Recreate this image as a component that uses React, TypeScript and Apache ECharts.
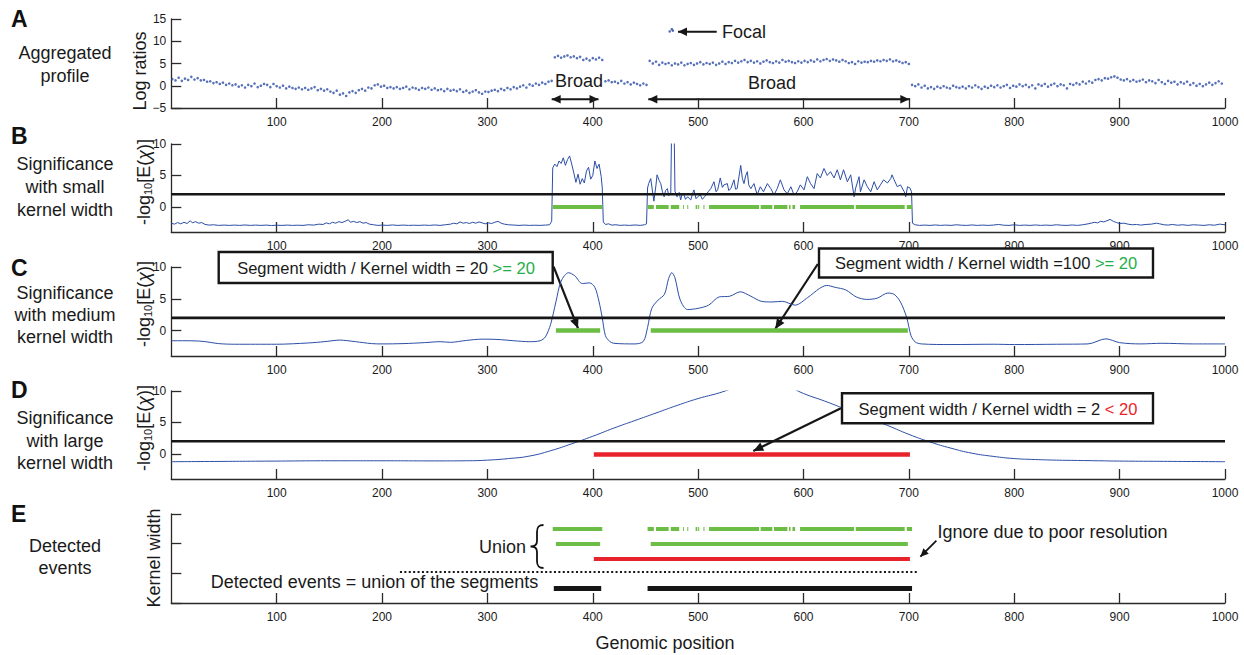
import React, { useEffect, useRef } from 'react';
import * as echarts from 'echarts';

// ---------------- DATA ----------------
const X_MIN = 0;
const X_MAX = 1000;
const THRESHOLD = 2;

// Panel A: aggregated profile (log ratios), one value every 3 positions starting at 1
const A_START = 1;
const A_STEP = 3;
const aggregatedProfile = [
  1.5, 1.2, 1.8, 1.1, 1.6, 1.3, 2.0, 1.4, 1.7, 1.2,
  1.3, 0.9, 1.0, 0.6, 0.8, 0.4, 0.7, 0.2, 0.5, 0.1,
  0.3, -0.2, 0.1, -0.4, 0.2, -0.1, 0.5, -0.3, 0.0, 0.4,
  0.2, -0.3, 0.4, -0.1, -0.4, 0.0, -0.6, -0.2, -0.5, -0.7,
  -0.4, -0.8, -0.5, -0.9, -0.6, -0.3, -1.0, -0.7, -1.1, -0.8,
  -1.3, -1.6, -1.1, -2.0, -1.7, -2.3, -1.5, -1.2, -1.6, -1.0,
  -0.7, -1.1, -0.4, -0.6, 0.1, 0.3, -0.2, 0.0, -0.5, -0.3,
  -0.6, -0.3, -0.7, -0.5, -0.2, -0.8, -0.4, -0.6, -0.9, -0.5,
  -0.7, -0.4, -0.9, -0.6, -1.0, -0.8, -1.2, -0.7, -1.1, -0.9,
  -1.2, -0.8, -1.4, -1.1, -1.6, -1.3, -1.0, -1.5, -1.8, -1.3,
  -1.4, -1.1, -0.9, -1.2, -0.7, -1.0, -0.5, -0.8, -0.3, -0.6,
  -0.2, 0.1, -0.4, 0.3, 0.0, 0.5, 0.2, 0.7, 0.4, 0.9,
  1.1, 6.4, 6.7, 6.3, 6.6, 6.8, 6.4, 6.6, 6.2, 6.5,
  5.8, 6.1, 5.7, 6.2, 5.9, 6.3, 5.8, 1.0, 1.2, 0.8,
  0.9, 0.6, 1.1, 0.5, 0.8, 0.3, 0.7, 0.4, 0.1, 0.5,
  0.2, 5.6, 5.0, 5.4, 4.7, 5.2, 4.9, 5.1, 4.6, 5.0,
  4.8, 5.2, 4.6, 4.9, 5.1, 4.7, 5.0, 5.3, 4.8, 5.1,
  4.9, 5.2, 4.7, 5.0, 5.4, 4.9, 5.3, 5.1, 5.6, 5.2,
  5.5, 5.8, 5.3, 5.6, 5.2, 5.5, 5.0, 5.4, 5.7, 5.3,
  5.1, 5.5, 5.2, 5.8, 5.4, 5.6, 5.3, 5.1, 5.5, 5.2,
  5.6, 5.3, 5.7, 5.4, 5.9, 5.5, 5.8, 6.0, 5.6, 5.9,
  5.7, 5.4, 5.8, 5.5, 5.1, 5.3, 4.9, 5.5, 5.2, 5.4,
  5.3, 5.6, 5.4, 5.7, 5.5, 5.8, 5.6, 5.9, 5.5, 5.7,
  5.4, 5.1, 5.3, 4.9, 0.2, -0.1, 0.3, -0.4, 0.0, -0.6,
  -0.3, -0.7, -0.2, -0.5, -0.1, -0.4, -0.6, 0.0, -0.3, -0.5,
  -0.2, -0.6, -0.1, -0.4, 0.1, -0.3, -0.7, -0.2, -0.5, 0.0,
  -0.3, 0.1, -0.4, -0.1, 0.2, -0.5, 0.0, -0.2, 0.3, -0.1,
  0.2, -0.3, 0.1, -0.6, 0.3, 0.0, 0.4, -0.2, 0.2, 0.5,
  -0.1, 0.3, 0.1, -0.6, 0.4, 0.2, 0.6, 0.3, 0.9, 0.5,
  1.0, 0.7, 1.3, 1.5, 1.2, 1.7, 1.6, 1.9, 2.1, 1.8,
  1.4, 1.2, 1.5, 1.0, 1.3, 0.9, 1.1, 1.4, 0.8, 1.2,
  1.0, 0.6, 1.3, 0.8, 0.4, 1.1, 0.7, 0.9, 0.3, 0.8,
  0.5, 0.9, 0.2, 0.6, 0.0, 0.4, -0.1, 0.3, 0.7, 0.2,
  0.6, 1.0, 0.5,
];
const focalPoints: [number, number][] = [[473, 12.2], [475, 12.7], [476, 12.4]];

// Panel B: significance with small kernel width
const smallKernel: [number, number][] = [
  [0, -2.6], [3, -2.75], [6, -2.5], [9, -2.7], [12, -2.45], [15, -2.65], [18, -2.2], [20, -2.55], [23, -2.35], [26, -2.6],
  [29, -2.5], [32, -2.8], [36, -2.9], [40, -2.85], [45, -2.95], [50, -2.9], [55, -2.95], [60, -2.9], [65, -2.95], [70, -2.88],
  [75, -2.95], [80, -2.9], [85, -2.95], [90, -2.9], [95, -2.97], [100, -2.92], [105, -2.95], [110, -2.9], [115, -2.95], [120, -2.92],
  [125, -2.95], [130, -2.85], [135, -2.9], [140, -2.75], [144, -2.8], [147, -2.55], [150, -2.7], [153, -2.45], [156, -2.6], [159, -2.35],
  [162, -2.5], [165, -2.3], [168, -2.05], [170, -2.45], [173, -2.3], [176, -2.5], [179, -2.35], [182, -2.6], [185, -2.5], [188, -2.75],
  [192, -2.85], [196, -2.95], [200, -2.9], [205, -2.95], [210, -2.88], [215, -2.95], [220, -2.9], [225, -2.95], [230, -2.92], [235, -2.95],
  [240, -2.9], [245, -2.95], [250, -2.88], [255, -2.95], [260, -2.85], [265, -2.75], [268, -2.6], [271, -2.7], [274, -2.4], [277, -2.6],
  [280, -2.5], [283, -2.65], [286, -2.45], [289, -2.6], [292, -2.4], [295, -2.55], [298, -2.7], [301, -2.55], [304, -2.65], [307, -2.45],
  [310, -2.3], [313, -2.6], [316, -2.75], [320, -2.85], [325, -2.9], [330, -2.95], [335, -2.9], [340, -2.95], [345, -2.92], [350, -2.95],
  [355, -2.9], [359, -2.85], [361, -2.3],
  [362, 6.2], [364, 6.8], [366, 6.4], [368, 7.3], [370, 6.9], [372, 7.8], [374, 6.6], [376, 7.5], [378, 8.1], [380, 6.8],
  [382, 5.4], [384, 3.9], [386, 5.2], [388, 3.6], [390, 4.5], [392, 3.8], [394, 5.7], [396, 6.3], [398, 4.4], [400, 5.0],
  [402, 7.3], [404, 6.1], [406, 6.8], [408, 4.8], [409, 3.0], [410, -2.4], [412, -2.8], [415, -2.7], [418, -2.9], [422, -2.85],
  [426, -2.95], [430, -2.9], [435, -2.95], [440, -2.88], [445, -2.95], [449, -2.85], [451, -2.7],
  [452, 3.0], [453, 3.7], [455, 4.5], [456.5, 2.7], [458, 0.9], [460, 3.5], [461, 5.1], [463, 4.2], [464.5, 3.7], [466, 2.5],
  [467.7, 1.6], [469, 2.6], [470.8, 2.9], [472, 1.8], [474, 2.1], [475, 15], [477, 15], [478, 2.5], [480, 1.6], [482, 2.3],
  [483.4, 1.1], [485, 2.2], [486.6, 1.9], [488, 1.2], [490, 1.6], [493, 1.1], [494.5, 2.0], [496, 2.7], [498, 1.3], [499.5, 1.6],
  [502, 1.9], [504, 1.2], [506, 1.6], [508, 2.0], [509.5, 2.4], [512, 2.9], [515, 4.0], [517, 2.4], [518.5, 2.7], [521, 4.6],
  [523, 3.1], [524.5, 3.5], [527.7, 3.7], [529, 2.6], [531, 2.9], [534, 4.3], [535.5, 2.8], [537, 2.9], [540.4, 6.6], [542, 4.5],
  [543.5, 3.7], [545, 4.9], [546.7, 5.6], [548, 3.5], [550, 2.9], [553, 3.7], [556, 1.9], [559, 3.2], [562, 2.4], [565.7, 3.7],
  [569, 2.9], [572, 1.9], [575, 2.9], [578, 4.3], [581.5, 2.7], [584.6, 2.1], [588, 3.2], [591, 1.9], [594, 2.4], [597, 3.5],
  [600.5, 2.7], [603.6, 4.8], [606.7, 3.7], [610, 2.9], [613, 5.3], [616, 4.6], [619.4, 6.1], [622.5, 5.0], [625.6, 5.6], [629, 4.6],
  [632, 5.9], [635, 4.3], [638, 5.9], [641.6, 4.0], [644.8, 5.1], [648, 1.6], [649.5, 3.0], [652.7, 4.8], [654, 2.4], [657.5, 4.3],
  [660.6, 3.2], [663.8, 2.4], [667, 4.0], [670, 2.7], [673, 3.5], [676, 4.3], [679.6, 3.8], [682.8, 4.5], [684, 5.1], [686, 4.3],
  [689, 3.2], [692, 3.5], [695.6, 2.4], [697, 1.6], [698.7, 3.2], [701, 3.0], [702.5, 2.4], [703.4, -2.6],
  [706, -2.85], [710, -2.95], [715, -2.9], [720, -2.95], [725, -2.88], [730, -2.95], [735, -2.9], [740, -2.95], [745, -2.85], [750, -2.92],
  [755, -2.95], [760, -2.88], [765, -2.95], [770, -2.9], [775, -2.95], [780, -2.9], [785, -2.8], [790, -2.92], [795, -2.95], [800, -2.85],
  [805, -2.95], [810, -2.9], [815, -2.95], [820, -2.88], [825, -2.95], [830, -2.9], [835, -2.95], [840, -2.85], [845, -2.92], [850, -2.95],
  [855, -2.88], [860, -2.95], [865, -2.85], [870, -2.7], [873, -2.6], [876, -2.45], [879, -2.55], [882, -2.3], [885, -2.4], [888, -2.2],
  [891, -2.0], [894, -2.3], [897, -2.5], [900, -2.65], [904, -2.6], [908, -2.75], [912, -2.85], [916, -2.8], [920, -2.9], [925, -2.8],
  [930, -2.75], [935, -2.6], [938, -2.7], [942, -2.85], [946, -2.9], [950, -2.8], [955, -2.92], [960, -2.85], [965, -2.95], [970, -2.85],
  [975, -2.9], [980, -2.95], [985, -2.85], [990, -2.92], [995, -2.75], [1000, -2.85],
];

// Panel C: significance with medium kernel width
const mediumKernel: [number, number][] = [
  [0, -1.6], [15, -1.6], [30, -1.7], [45, -2.05], [60, -2.15], [80, -2.15], [100, -2.15], [130, -1.95], [145, -1.75], [160, -1.5],
  [175, -1.75], [190, -2.05], [200, -2.1], [220, -2.05], [240, -1.9], [255, -1.75], [265, -1.85], [280, -1.55], [295, -1.35], [310, -1.4],
  [325, -1.6], [340, -1.75], [350, -1.6], [355, -1.0], [360, 1.0], [365, 4.5], [370, 7.8], [377, 9.1], [383, 8.6], [390, 7.4],
  [397, 7.5], [402, 6.8], [406, 4.5], [409, 2.0], [412, -0.8], [416, -1.7], [420, -2.0], [440, -2.1], [448, -1.7], [452, 0.5],
  [456, 3.5], [462, 4.8], [468, 5.7], [472, 8.2], [475, 9.1], [478, 8.3], [483, 4.8], [490, 3.3], [500, 3.5], [510, 4.0],
  [520, 5.3], [530, 5.4], [540, 6.1], [550, 5.4], [560, 4.6], [570, 4.5], [580, 4.6], [592, 4.0], [604, 5.2], [615, 6.6],
  [622, 7.1], [630, 6.8], [640, 6.4], [650, 5.3], [660, 4.9], [670, 5.1], [680, 5.9], [686, 5.7], [692, 4.5], [698, 2.0],
  [702, -0.8], [706, -1.8], [712, -2.1], [740, -2.2], [780, -2.15], [800, -2.2], [840, -2.15], [870, -2.1], [887, -1.3], [900, -1.9],
  [920, -2.1], [940, -2.0], [970, -2.1], [1000, -2.1],
];

// Panel D: significance with large kernel width
const largeKernel: [number, number][] = [
  [0, -1.25], [50, -1.2], [100, -1.15], [150, -1.1], [200, -1.1], [250, -1.12], [280, -1.1], [300, -1.0], [320, -0.75], [340, -0.35],
  [360, 0.5], [380, 1.6], [400, 2.8], [420, 4.1], [440, 5.3], [460, 6.5], [480, 7.7], [500, 8.8], [520, 9.7],
  [540, 10.8], [560, 11.5], [580, 11.1], [600, 9.6], [620, 8.4], [640, 7.1], [660, 5.8], [680, 4.5],
  [700, 3.1], [720, 1.9], [740, 0.9], [760, 0.1], [780, -0.4], [800, -0.75], [820, -0.9], [840, -1.0], [860, -1.05], [880, -1.1],
  [900, -1.15], [950, -1.2], [1000, -1.25],
];

// Segments above threshold (start, end positions)
const smallSegments: [number, number][] = [
  [362, 409], [452, 458], [460, 472], [474, 482], [485.6, 486.5], [489.7, 490.6], [497.6, 499.2], [500, 501], [505, 506],
  [510.3, 557.8], [559.3, 570.4], [572, 584.7], [586.2, 587.7], [589.5, 592], [596.7, 648], [649.6, 696], [698, 703],
];
const mediumSegments: [number, number][] = [[365, 407], [455, 699]];
const largeSegments: [number, number][] = [[401, 701]];
const detectedEvents: [number, number][] = [[363, 408], [452, 703]];
const resolutionCutoff: [number, number][] = [[217, 708]];

// Panel E kernel-width levels
const LEVEL_SMALL = 2.5;
const LEVEL_MEDIUM = 2;
const LEVEL_LARGE = 1.5;
const LEVEL_CUTOFF = 1.05;
const LEVEL_DETECTED = 0.5;

const SIG_TICKS = [0, 5, 10];

// ---------------- STYLE ----------------
const FONT = "'Liberation Sans', Arial, Helvetica, sans-serif";
const BLUE = '#2c4ea6';
const GREEN = '#6cbd45';
const RED = '#e8232b';
const TXT_GREEN = '#1fae4b';
const BLACK = '#161616';
const AX = '#2a2a2a';

const GRID_LEFT = 171.3;
const GRID_WIDTH = 1053.7;
const panels = [
  { top: 19, height: 89 },
  { top: 144, height: 88 },
  { top: 267, height: 89 },
  { top: 391, height: 88 },
  { top: 514, height: 89 },
];

echarts.graphic.registerShape(
  'brace',
  echarts.graphic.extendPath(
    'M14 0 C9 0 7.5 2 7.5 7 L7.5 16 C7.5 19.5 5.5 21.5 1 21.5 C5.5 21.5 7.5 23.5 7.5 27 L7.5 36 C7.5 41 9 43 14 43',
    {}
  )
);

function xAxis(i: number) {
  return {
    type: 'value',
    gridIndex: i,
    min: X_MIN,
    max: X_MAX,
    interval: 100,
    axisLine: { show: true, onZero: false, lineStyle: { color: AX, width: 1.3 } },
    axisTick: { show: true, inside: true, length: 10, lineStyle: { color: AX, width: 1.3 } },
    axisLabel: {
      show: true,
      showMinLabel: false,
      color: '#1a1a1a',
      fontSize: 12,
      fontFamily: FONT,
      margin: 8,
      formatter: (v: number) => String(v),
    },
    splitLine: { show: false },
  };
}

function yAxisBase(i: number) {
  return {
    type: 'value',
    gridIndex: i,
    axisLine: { show: true, onZero: false, lineStyle: { color: AX, width: 1.3 } },
    splitLine: { show: false },
  };
}

function segSeries(i: number, segs: [number, number][], y: number, color: string, width: number, type: any = 'solid') {
  return {
    type: 'lines',
    coordinateSystem: 'cartesian2d',
    xAxisIndex: i,
    yAxisIndex: i,
    polyline: false,
    silent: true,
    z: 5,
    data: segs.map(([a, b]) => ({ coords: [[a, y], [b, y]] })),
    lineStyle: { color, width, type, opacity: 1, cap: 'butt', curveness: 0 },
  };
}

function thresholdSeries(i: number) {
  return {
    type: 'line',
    xAxisIndex: i,
    yAxisIndex: i,
    data: [[X_MIN, THRESHOLD], [X_MAX, THRESHOLD]],
    showSymbol: false,
    silent: true,
    z: 6,
    lineStyle: { color: BLACK, width: 2.6 },
  };
}

function txt(text: string, x: number, y: number, size: number, extra: any = {}, styleExtra: any = {}) {
  return {
    type: 'text',
    x,
    y,
    silent: true,
    ...extra,
    style: {
      text,
      fontSize: size,
      fontFamily: FONT,
      fill: '#1a1a1a',
      align: 'center',
      textAlign: 'center',
      verticalAlign: 'middle',
      textVerticalAlign: 'middle',
      ...styleExtra,
    },
  };
}

function head(tx: number, ty: number, fx: number, fy: number, len = 9, half = 4.2) {
  const dx = tx - fx;
  const dy = ty - fy;
  const L = Math.hypot(dx, dy);
  const ux = dx / L;
  const uy = dy / L;
  const bx = tx - ux * len;
  const by = ty - uy * len;
  return {
    type: 'polygon',
    silent: true,
    shape: { points: [[tx, ty], [bx - uy * half, by + ux * half], [bx + uy * half, by - ux * half]] },
    style: { fill: BLACK },
  };
}

function arrow(x1: number, y1: number, x2: number, y2: number, both = false, w = 2, len = 9, half = 4.2) {
  const els: any[] = [
    { type: 'line', silent: true, shape: { x1, y1, x2, y2 }, style: { stroke: BLACK, lineWidth: w } },
    head(x2, y2, x1, y1, len, half),
  ];
  if (both) els.push(head(x1, y1, x2, y2, len, half));
  return els;
}

function box(x: number, y: number, w: number, h: number) {
  return {
    type: 'rect',
    silent: true,
    shape: { x, y, width: w, height: h },
    style: { fill: '#ffffff', stroke: BLACK, lineWidth: 2.4 },
    z: 10,
  };
}

const richBase = { fontSize: 16.5, fontFamily: FONT, fill: '#1a1a1a' };

function sigTitle(x: number, y: number) {
  return {
    type: 'text',
    x,
    y,
    rotation: Math.PI / 2,
    silent: true,
    style: {
      text: '{n|-log}{s|10}{n|[E(}{i|χ}{n|)]}',
      align: 'center',
      textAlign: 'center',
      verticalAlign: 'middle',
      textVerticalAlign: 'middle',
      fontSize: 18,
      fontFamily: FONT,
      fill: '#1a1a1a',
      rich: {
        n: { fontSize: 18, fontFamily: FONT, fill: '#1a1a1a', lineHeight: 20, verticalAlign: 'bottom' },
        s: { fontSize: 11, fontFamily: FONT, fill: '#1a1a1a', lineHeight: 20, verticalAlign: 'bottom' },
        i: { fontSize: 18, fontFamily: FONT, fill: '#1a1a1a', fontStyle: 'italic', lineHeight: 20, verticalAlign: 'bottom' },
      },
    },
  };
}

function buildOption() {
  const grid = panels.map((p) => ({ left: GRID_LEFT, width: GRID_WIDTH, top: p.top, height: p.height, containLabel: false }));
  const xAxes = panels.map((_, i) => xAxis(i));
  const tickStyle = { show: true, inside: true, length: 10, lineStyle: { color: AX, width: 1.3 } };
  const labelStyle = { color: '#1a1a1a', fontSize: 12, fontFamily: FONT, margin: 5 };
  const yAxes: any[] = [
    {
      ...yAxisBase(0),
      min: -5,
      max: 15,
      interval: 5,
      axisTick: tickStyle,
      axisLabel: { ...labelStyle, formatter: (v: number) => String(v).replace('-', '\u2212') },
    },
    ...[1, 2, 3].map((i) => ({
      ...yAxisBase(i),
      min: -4,
      max: 10,
      axisTick: { ...tickStyle, customValues: SIG_TICKS },
      axisLabel: { ...labelStyle, customValues: SIG_TICKS },
    })),
    {
      ...yAxisBase(4),
      min: 0,
      max: 3,
      interval: 1,
      axisTick: tickStyle,
      axisLabel: { show: false },
    },
  ];

  const series: any[] = [
    {
      type: 'scatter',
      xAxisIndex: 0,
      yAxisIndex: 0,
      symbolSize: 2.6,
      itemStyle: { color: BLUE },
      silent: true,
      data: aggregatedProfile.map((v, i) => [A_START + i * A_STEP, v]),
    },
    {
      type: 'scatter',
      xAxisIndex: 0,
      yAxisIndex: 0,
      symbolSize: 2.6,
      itemStyle: { color: BLUE },
      silent: true,
      data: focalPoints,
    },
    {
      type: 'line',
      xAxisIndex: 1,
      yAxisIndex: 1,
      data: smallKernel,
      showSymbol: false,
      silent: true,
      lineStyle: { color: BLUE, width: 1 },
    },
    thresholdSeries(1),
    segSeries(1, smallSegments, 0, GREEN, 4),
    {
      type: 'line',
      xAxisIndex: 2,
      yAxisIndex: 2,
      data: mediumKernel,
      smooth: 0.3,
      showSymbol: false,
      silent: true,
      lineStyle: { color: BLUE, width: 1 },
    },
    thresholdSeries(2),
    segSeries(2, mediumSegments, 0, GREEN, 4.5),
    {
      type: 'line',
      xAxisIndex: 3,
      yAxisIndex: 3,
      data: largeKernel,
      smooth: 0.5,
      showSymbol: false,
      silent: true,
      lineStyle: { color: BLUE, width: 1 },
    },
    thresholdSeries(3),
    segSeries(3, largeSegments, 0, RED, 4.5),
    segSeries(4, smallSegments, LEVEL_SMALL, GREEN, 4),
    segSeries(4, mediumSegments, LEVEL_MEDIUM, GREEN, 4),
    segSeries(4, largeSegments, LEVEL_LARGE, RED, 4),
    segSeries(4, resolutionCutoff, LEVEL_CUTOFF, BLACK, 2, [2, 2.4]),
    segSeries(4, detectedEvents, LEVEL_DETECTED, BLACK, 5),
  ];

  const leftLabels = [
    { letter: 'A', ly: 18.5, lines: ['Aggregated', 'profile'], ys: [53, 76] },
    { letter: 'B', ly: 136, lines: ['Significance', 'with small', 'kernel width'], ys: [164, 187, 210] },
    { letter: 'C', ly: 267.5, lines: ['Significance', 'with medium', 'kernel width'], ys: [293, 315, 337] },
    { letter: 'D', ly: 390, lines: ['Significance', 'with large', 'kernel width'], ys: [418, 441, 463] },
    { letter: 'E', ly: 513.5, lines: ['Detected', 'events'], ys: [546, 568] },
  ];

  const graphic: any[] = [];
  leftLabels.forEach((l) => {
    graphic.push(txt(l.letter, 11, l.ly, 23, {}, { fontWeight: 'bold', align: 'left', textAlign: 'left', fill: '#111' }));
    l.lines.forEach((s, k) => graphic.push(txt(s, 65, l.ys[k], 18)));
  });

  // Y-axis titles
  graphic.push(txt('Log ratios', 140, 71, 18, { rotation: Math.PI / 2 }));
  graphic.push(sigTitle(143, 182));
  graphic.push(sigTitle(143, 304));
  graphic.push(sigTitle(143, 428));
  graphic.push(txt('Kernel width', 154, 558, 18, { rotation: Math.PI / 2 }));
  graphic.push(txt('Genomic position', 665, 643, 18));

  // Panel A annotations
  graphic.push(txt('Focal', 744, 31.7, 18));
  graphic.push(...arrow(716.7, 31.7, 678, 31.7));
  graphic.push(txt('Broad', 579, 81, 18));
  graphic.push(...arrow(551.7, 99.3, 598.5, 99.3, true));
  graphic.push(txt('Broad', 772, 83.3, 18));
  graphic.push(...arrow(648.3, 99.3, 909.3, 99.3, true));

  // Panel C annotations
  graphic.push(box(218.7, 252, 334, 31));
  graphic.push({
    type: 'text', x: 386, y: 267.5, silent: true, z: 11,
    style: {
      text: '{a|Segment width / Kernel width = 20 }{g|>= 20}',
      align: 'center', textAlign: 'center', verticalAlign: 'middle', textVerticalAlign: 'middle',
      ...richBase,
      rich: { a: { ...richBase }, g: { ...richBase, fill: TXT_GREEN } },
    },
  });
  graphic.push(...arrow(553.6, 266.7, 578, 328.3, false, 2.2, 10, 4.5));
  graphic.push(box(819, 248.5, 334, 29));
  graphic.push({
    type: 'text', x: 986, y: 263, silent: true, z: 11,
    style: {
      text: '{a|Segment width / Kernel width =100 }{g|>= 20}',
      align: 'center', textAlign: 'center', verticalAlign: 'middle', textVerticalAlign: 'middle',
      ...richBase,
      rich: { a: { ...richBase }, g: { ...richBase, fill: TXT_GREEN } },
    },
  });
  graphic.push(...arrow(817.8, 264, 775.2, 329, false, 2.2, 10, 4.5));

  // Panel D annotations
  graphic.push(box(842, 393.3, 311, 30));
  graphic.push({
    type: 'text', x: 998, y: 408.5, silent: true, z: 11,
    style: {
      text: '{a|Segment width / Kernel width = 2 }{r|< 20}',
      align: 'center', textAlign: 'center', verticalAlign: 'middle', textVerticalAlign: 'middle',
      ...richBase,
      rich: { a: { ...richBase }, r: { ...richBase, fill: RED } },
    },
  });
  graphic.push(...arrow(840.9, 408.3, 753.3, 451, false, 2.2, 10, 4.5));

  // Panel E annotations
  graphic.push(txt('Union', 526, 547, 18, {}, { align: 'right', textAlign: 'right' }));
  graphic.push({
    type: 'brace', x: 529.5, y: 525, silent: true,
    style: { stroke: '#111', fill: 'none', lineWidth: 1.8 },
  });
  graphic.push(txt('Detected events = union of the segments', 374.5, 582, 18));
  graphic.push(txt('Ignore due to poor resolution', 1052.5, 531.5, 18));
  graphic.push(...arrow(936.4, 540.7, 920.4, 556.7, false, 1.8, 8, 3.8));

  return {
    animation: false,
    backgroundColor: '#ffffff',
    grid,
    xAxis: xAxes,
    yAxis: yAxes,
    series,
    graphic: { elements: graphic },
  };
}

export default function App() {
  const ref = useRef<HTMLDivElement>(null);
  useEffect(() => {
    if (!ref.current) return;
    const chart = echarts.init(ref.current, null, { renderer: 'svg', width: 1244, height: 655 });
    chart.setOption(buildOption() as any);
    return () => chart.dispose();
  }, []);
  return (
    <div
      ref={ref}
      style={{ position: 'fixed', left: 0, top: 0, width: 1244, height: 655, background: '#ffffff' }}
    />
  );
}
